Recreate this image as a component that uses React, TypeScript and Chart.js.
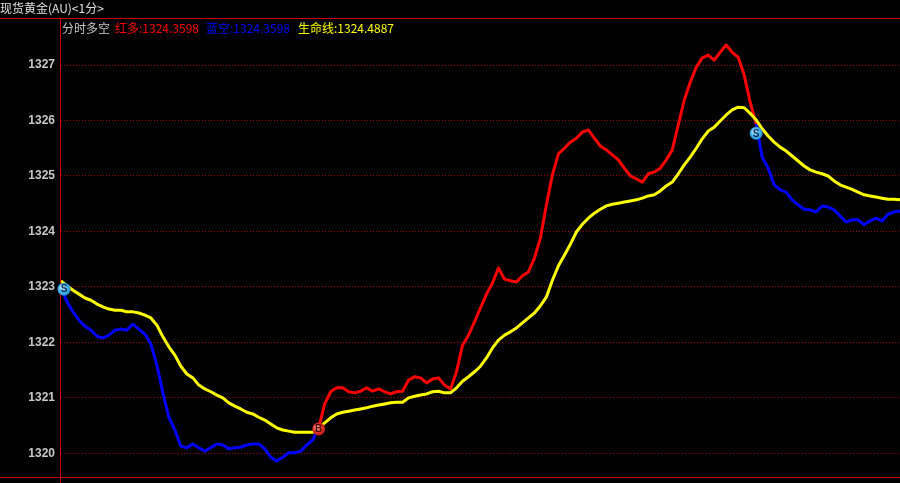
import React, { useEffect, useRef } from 'react';
import { Chart, registerables } from 'chart.js';

Chart.register(...registerables);

const titleText = '现货黄金(AU)<1分>';
const legendName = '分时多空';
const legendLabels = ['红多', '蓝空', '生命线'];
const legendValues = ['1324.3598', '1324.3598', '1324.4887'];

const yTicks = [1320, 1321, 1322, 1323, 1324, 1325, 1326, 1327];
const yMin = 1319.573;
const yMax = 1327.848;

// one sample per minute-bar step
const priceValues = [
  1323.00, 1322.73, 1322.55, 1322.40, 1322.29, 1322.22, 1322.11, 1322.08, 1322.13, 1322.22,
  1322.24, 1322.22, 1322.33, 1322.24, 1322.15, 1321.97, 1321.59, 1321.09, 1320.65, 1320.42,
  1320.13, 1320.10, 1320.17, 1320.10, 1320.04, 1320.10, 1320.17, 1320.15, 1320.08, 1320.10,
  1320.11, 1320.15, 1320.17, 1320.17, 1320.08, 1319.93, 1319.86, 1319.93, 1320.01, 1320.01,
  1320.04, 1320.15, 1320.24, 1320.46, 1320.89, 1321.11, 1321.18, 1321.18, 1321.11, 1321.09,
  1321.12, 1321.18, 1321.12, 1321.16, 1321.11, 1321.07, 1321.11, 1321.12, 1321.32, 1321.38,
  1321.36, 1321.27, 1321.34, 1321.36, 1321.23, 1321.16, 1321.47, 1321.95, 1322.13, 1322.37,
  1322.62, 1322.87, 1323.07, 1323.34, 1323.14, 1323.11, 1323.09, 1323.20, 1323.27, 1323.52,
  1323.88, 1324.48, 1325.02, 1325.40, 1325.50, 1325.61, 1325.68, 1325.79, 1325.83, 1325.68,
  1325.54, 1325.47, 1325.38, 1325.29, 1325.14, 1325.00, 1324.95, 1324.89, 1325.04, 1325.07,
  1325.14, 1325.29, 1325.47, 1325.92, 1326.37, 1326.69, 1326.96, 1327.13, 1327.18, 1327.09,
  1327.23, 1327.36, 1327.23, 1327.14, 1326.82, 1326.33, 1325.94, 1325.34, 1325.14, 1324.84,
  1324.75, 1324.71, 1324.57, 1324.48, 1324.40, 1324.39, 1324.35, 1324.46, 1324.44, 1324.39,
  1324.28, 1324.17, 1324.21, 1324.21, 1324.12, 1324.19, 1324.24, 1324.19, 1324.31, 1324.35, 1324.37,
];

const lifeLineValues = [
  1323.11, 1323.02, 1322.94, 1322.87, 1322.80, 1322.76, 1322.69, 1322.64, 1322.60, 1322.58,
  1322.58, 1322.55, 1322.55, 1322.53, 1322.49, 1322.44, 1322.31, 1322.10, 1321.92, 1321.77,
  1321.57, 1321.43, 1321.36, 1321.23, 1321.16, 1321.11, 1321.05, 1321.00, 1320.91, 1320.85,
  1320.80, 1320.74, 1320.71, 1320.65, 1320.60, 1320.53, 1320.46, 1320.42, 1320.40, 1320.38,
  1320.38, 1320.38, 1320.38, 1320.44, 1320.55, 1320.64, 1320.71, 1320.74, 1320.76, 1320.78,
  1320.80, 1320.82, 1320.85, 1320.87, 1320.89, 1320.91, 1320.92, 1320.92, 1321.00, 1321.03,
  1321.05, 1321.07, 1321.11, 1321.12, 1321.09, 1321.09, 1321.18, 1321.30, 1321.38, 1321.47,
  1321.57, 1321.72, 1321.90, 1322.04, 1322.13, 1322.19, 1322.26, 1322.35, 1322.44, 1322.53,
  1322.66, 1322.82, 1323.12, 1323.38, 1323.57, 1323.77, 1323.99, 1324.13, 1324.24, 1324.33,
  1324.40, 1324.46, 1324.49, 1324.51, 1324.53, 1324.55, 1324.57, 1324.60, 1324.64, 1324.66,
  1324.73, 1324.82, 1324.89, 1325.04, 1325.20, 1325.34, 1325.50, 1325.67, 1325.81, 1325.88,
  1325.99, 1326.10, 1326.19, 1326.24, 1326.23, 1326.13, 1326.01, 1325.85, 1325.72, 1325.61,
  1325.52, 1325.45, 1325.36, 1325.27, 1325.18, 1325.11, 1325.07, 1325.04, 1325.00, 1324.91,
  1324.84, 1324.80, 1324.76, 1324.71, 1324.66, 1324.64, 1324.62, 1324.60, 1324.58, 1324.58, 1324.57,
];

// buy / sell signals
const signalIndex = [0, 43, 116];
const signalType = ['S', 'B', 'S'];
const signalValue = [1322.96, 1320.44, 1325.77];

const bullStart = 43;
const bullEnd = 116;

const framePlugin = {
  id: 'frameAndSignals',
  beforeDraw(chart: any) {
    const ctx = chart.ctx;
    ctx.save();
    ctx.fillStyle = '#000000';
    ctx.fillRect(0, 0, chart.width, chart.height);
    ctx.restore();
  },
  afterDraw(chart: any) {
    const ctx = chart.ctx;
    const { left, top, bottom } = chart.chartArea;
    ctx.save();
    ctx.strokeStyle = '#d00000';
    ctx.lineWidth = 1;
    ctx.setLineDash([]);
    ctx.beginPath();
    ctx.moveTo(0, top + 0.5);
    ctx.lineTo(chart.width, top + 0.5);
    ctx.moveTo(0, bottom + 0.5);
    ctx.lineTo(chart.width, bottom + 0.5);
    ctx.moveTo(left - 0.5, top);
    ctx.lineTo(left - 0.5, chart.height);
    ctx.stroke();

    const xs = chart.scales.x;
    const ys = chart.scales.y;
    for (let k = 0; k < signalIndex.length; k++) {
      const px = xs.getPixelForValue(signalIndex[k]) + (signalIndex[k] === 0 ? 3 : 0);
      const py = ys.getPixelForValue(signalValue[k]);
      const isSell = signalType[k] === 'S';
      const grad = ctx.createRadialGradient(px - 2, py - 2, 1, px, py, 7);
      if (isSell) {
        grad.addColorStop(0, '#bfeaff');
        grad.addColorStop(0.5, '#4cbcf0');
        grad.addColorStop(1, '#1f86c8');
      } else {
        grad.addColorStop(0, '#ffb0a0');
        grad.addColorStop(0.5, '#e83c30');
        grad.addColorStop(1, '#b01010');
      }
      ctx.beginPath();
      ctx.arc(px, py, 6.5, 0, Math.PI * 2);
      ctx.fillStyle = grad;
      ctx.fill();
      ctx.fillStyle = isSell ? '#0d2a55' : '#4a0505';
      ctx.font = 'bold 10px "Liberation Sans", Arial, sans-serif';
      ctx.textAlign = 'center';
      ctx.textBaseline = 'middle';
      ctx.fillText(signalType[k], px, py + 0.5);
    }
    ctx.restore();
  },
};

export default function App() {
  const canvasRef = useRef<HTMLCanvasElement | null>(null);

  useEffect(() => {
    const canvas = canvasRef.current;
    if (!canvas) return;
    const labels = priceValues.map((_, i) => i);
    const redData = priceValues.map((v, i) => (i >= bullStart && i <= bullEnd ? v : null));
    const blueData = priceValues.map((v, i) => (i <= bullStart || i >= bullEnd ? v : null));

    const chart = new Chart(canvas, {
      type: 'line',
      data: {
        labels,
        datasets: [
          {
            label: legendLabels[2],
            data: lifeLineValues,
            borderColor: '#ffff00',
            borderWidth: 3,
            pointRadius: 0,
            borderJoinStyle: 'round',
            tension: 0,
            order: 0,
          },
          {
            label: legendLabels[0],
            data: redData,
            borderColor: '#ff0000',
            borderWidth: 3,
            pointRadius: 0,
            borderJoinStyle: 'round',
            tension: 0,
            spanGaps: false,
            order: 1,
          },
          {
            label: legendLabels[1],
            data: blueData,
            borderColor: '#0000ff',
            borderWidth: 3,
            pointRadius: 0,
            borderJoinStyle: 'round',
            tension: 0,
            spanGaps: false,
            order: 2,
          },
        ],
      },
      options: {
        animation: false,
        responsive: false,
        maintainAspectRatio: false,
        events: [],
        layout: { padding: { top: 18, bottom: 6, left: 0, right: 0 } },
        plugins: { legend: { display: false }, tooltip: { enabled: false } },
        scales: {
          x: { type: 'category', display: false, offset: false },
          y: {
            position: 'left',
            min: yMin,
            max: yMax,
            afterFit: (s: any) => {
              s.width = 61;
              s.paddingTop = 0;
              s.paddingBottom = 0;
            },
            afterBuildTicks: (s: any) => {
              s.ticks = yTicks.map((v) => ({ value: v }));
            },
            grid: { color: '#9a0000', lineWidth: 1, drawTicks: false },
            border: { display: false, dash: [1, 2] },
            ticks: {
              color: '#c8c8c8',
              font: { family: '"Liberation Sans", Arial, sans-serif', size: 12, weight: 'bold' },
              padding: 6,
              callback: (v: any) => String(v),
            },
          },
        },
      } as any,
      plugins: [framePlugin],
    });
    return () => chart.destroy();
  }, []);

  const cjk = '"Noto Sans CJK SC", "Noto Sans", sans-serif';
  const legendColors = ['#ff0000', '#0000ff', '#ffff00'];
  const legendLeft = [115, 206, 298];

  return (
    <div
      style={{
        position: 'fixed',
        left: 0,
        top: 0,
        width: 900,
        height: 483,
        background: '#000',
        overflow: 'hidden',
      }}
    >
      <canvas ref={canvasRef} width={900} height={483} style={{ display: 'block', width: 900, height: 483 }} />
      <div
        style={{
          position: 'absolute',
          left: 0,
          top: 0,
          fontFamily: cjk,
          fontSize: 12,
          lineHeight: '16px',
          color: '#e0e0e0',
          whiteSpace: 'nowrap',
        }}
      >
        {titleText}
      </div>
      <div
        style={{
          position: 'absolute',
          left: 62,
          top: 20,
          fontFamily: cjk,
          fontSize: 12,
          lineHeight: '16px',
          color: '#c8c8c8',
          whiteSpace: 'nowrap',
        }}
      >
        {legendName}
      </div>
      {legendLabels.map((lab, i) => (
        <div
          key={lab}
          style={{
            position: 'absolute',
            left: legendLeft[i],
            top: 20,
            fontFamily: cjk,
            fontSize: 12,
            lineHeight: '16px',
            color: legendColors[i],
            whiteSpace: 'nowrap',
          }}
        >
          {lab}:{legendValues[i]}
        </div>
      ))}
    </div>
  );
}
